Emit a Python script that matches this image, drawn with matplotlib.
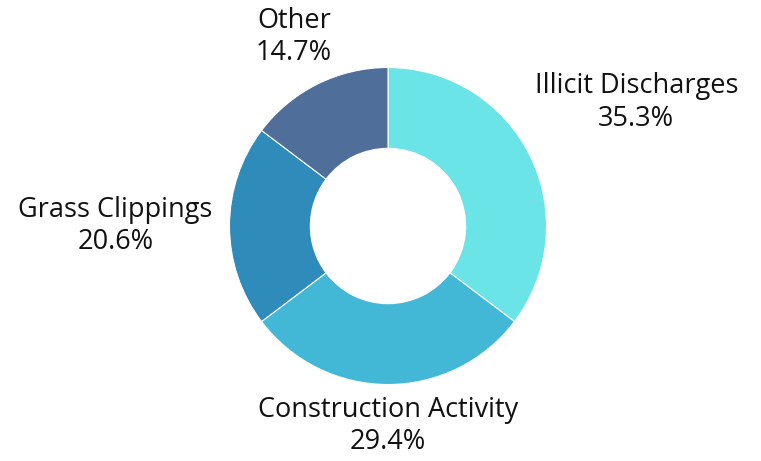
import numpy as np
import matplotlib
matplotlib.use("Agg")
import matplotlib.pyplot as plt

categories = ["Illicit Discharges", "Construction Activity", "Grass Clippings", "Other"]
values = [35.3, 29.4, 20.6, 14.7]
colors = ["#6AE4E7", "#43B8D6", "#2E8BBA", "#4F6E9A"]
label_dist = [1.75, 1.26, 1.72, 1.33]

fig = plt.figure(figsize=(7.61, 4.61), dpi=100)
ax = fig.add_axes([0, 0, 1, 1])
R = 158.5

wedges, _ = ax.pie(values, colors=colors, startangle=90, counterclock=False,
                   radius=1.0, wedgeprops=dict(width=0.51, edgecolor="white", linewidth=0.8))
ax.set_xlim(-388 / R, (761 - 388) / R)
ax.set_ylim(-(461 - 226) / R, 226 / R)
ax.set_aspect("equal")
ax.axis("off")

for w, cat, val, d in zip(wedges, categories, values, label_dist):
    ang = np.deg2rad((w.theta1 + w.theta2) / 2)
    ax.text(d * np.cos(ang), d * np.sin(ang), f"{cat}\n{val:.1f}%",
            ha="center", va="center", fontsize=19.5, family="Open Sans",
            color="#111111", linespacing=1.2)

fig.savefig("out.png", dpi=100)
